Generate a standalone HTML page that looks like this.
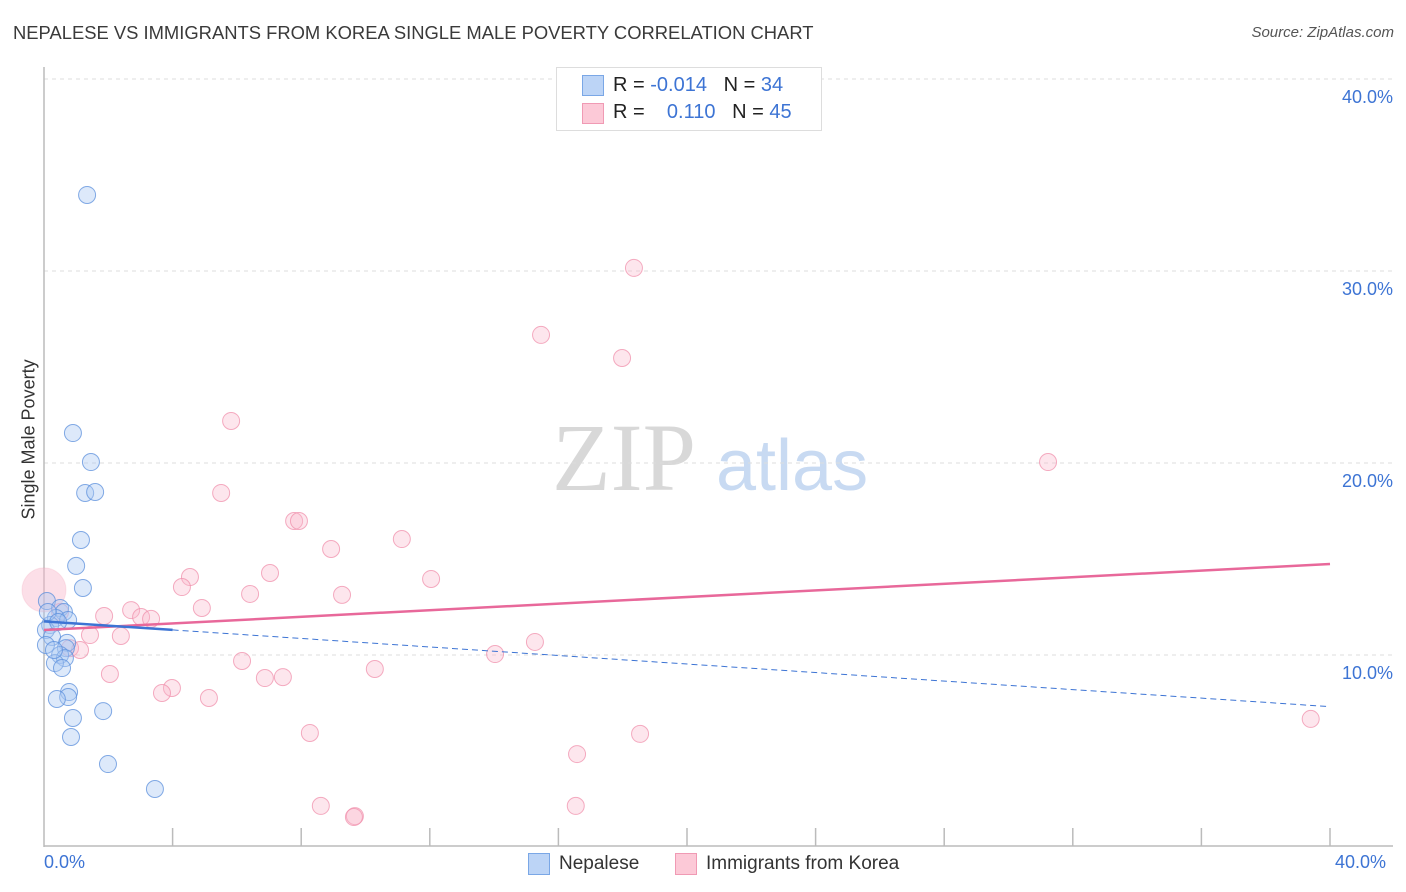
<!DOCTYPE html>
<html><head><meta charset="utf-8">
<style>
body{margin:0;background:#fff;font-family:"Liberation Sans",sans-serif;}
#wrap{position:relative;width:1406px;height:892px;overflow:hidden;}
.t{position:absolute;white-space:nowrap;}
</style></head>
<body>
<div id="wrap">
<div class="t" style="left:13px;top:22px;font-size:18.4px;color:#3a3a3a;">NEPALESE VS IMMIGRANTS FROM KOREA SINGLE MALE POVERTY CORRELATION CHART</div>
<div class="t" style="right:12px;top:24px;font-size:15px;color:#555;font-style:italic;">Source: ZipAtlas.com</div>
<svg id="svg" width="1406" height="892" style="position:absolute;left:0;top:0;"></svg>
<div class="t" style="left:556px;top:67px;width:264px;height:62px;border:1px solid #ddd;background:#fff;"></div>
<div class="t" style="left:582px;top:75px;width:20px;height:19px;background:#bcd4f6;border:1px solid #7aa7e6;"></div>
<div class="t" style="left:582px;top:103px;width:20px;height:19px;background:#fcc9d7;border:1px solid #f09ab4;"></div>
<div class="t" style="left:613px;top:74px;font-size:20px;color:#222;">R = <span style="color:#3d74d4">-0.014</span>&nbsp;&nbsp;&nbsp;N = <span style="color:#3d74d4">34</span></div>
<div class="t" style="left:613px;top:101px;font-size:20px;color:#222;">R = &nbsp;&nbsp;&nbsp;<span style="color:#3d74d4">0.110</span>&nbsp;&nbsp;&nbsp;N = <span style="color:#3d74d4">45</span></div>
<div class="t" style="left:-36px;top:444px;font-size:18px;color:#333;transform:rotate(-90deg);width:130px;text-align:center;">Single Male Poverty</div>
<div class="t" style="left:44px;top:852px;font-size:18px;color:#3d74d4;">0.0%</div>
<div class="t" style="left:1335px;top:852px;font-size:18px;color:#3d74d4;">40.0%</div>
<div class="t" style="left:528px;top:853px;width:20px;height:20px;background:#bcd4f6;border:1px solid #7aa7e6;"></div>
<div class="t" style="left:559px;top:853px;font-size:19px;color:#333;">Nepalese</div>
<div class="t" style="left:675px;top:853px;width:20px;height:20px;background:#fcc9d7;border:1px solid #f09ab4;"></div>
<div class="t" style="left:706px;top:853px;font-size:19px;color:#333;">Immigrants from Korea</div>
</div>
<script>
const yTicks=[10,20,30,40];
const yTickLabels=["10.0%","20.0%","30.0%","40.0%"];
const blueX=[1.34,0.90,1.46,1.28,1.59,1.15,1.00,1.21,0.09,0.50,0.62,0.37,0.75,0.19,0.06,0.25,0.72,0.06,0.68,0.50,0.65,0.34,0.56,0.78,0.75,0.40,1.84,0.90,0.84,1.99,3.45,0.12,0.44,0.31];
const blueY=[33.96,21.56,20.05,18.44,18.49,15.99,14.64,13.49,12.81,12.45,12.24,11.93,11.82,11.56,11.30,10.94,10.63,10.52,10.36,10.0,9.84,9.58,9.32,8.07,7.81,7.71,7.08,6.72,5.73,4.32,3.02,12.24,11.72,10.26];
const pinkX=[18.35,15.46,17.98,5.82,31.23,5.51,7.78,7.93,11.13,8.93,4.54,4.29,7.03,12.04,6.41,9.27,4.91,2.71,1.87,3.02,3.33,0.50,1.43,2.39,15.27,0.81,1.12,14.03,6.16,10.29,2.05,6.87,7.43,3.98,3.67,5.13,39.40,8.27,18.54,16.58,8.61,16.54,9.67,9.64,0.0];
const pinkY=[30.16,26.67,25.47,22.19,20.05,18.44,16.98,16.98,16.04,15.52,14.06,13.54,14.27,13.96,13.18,13.13,12.45,12.34,12.03,11.98,11.88,12.24,11.04,10.99,10.68,10.36,10.26,10.05,9.69,9.27,9.01,8.80,8.85,8.28,8.02,7.76,6.67,5.94,5.89,4.84,2.14,2.14,1.61,1.56,13.39];
const blueTrend=[11.75,-0.111];
const pinkTrend=[11.3,0.086];
const NS="http://www.w3.org/2000/svg";
const svg=document.getElementById('svg');
const X=v=>44+v/40*1286;
const Y=v=>847-v*19.2;
function mk(tag,attrs){const e=document.createElementNS(NS,tag);for(const k in attrs)e.setAttribute(k,attrs[k]);svg.appendChild(e);return e;}
let w=mk('text',{x:552,y:490,'font-size':96,'font-family':'Liberation Serif,serif',fill:'#d8d8d8'});w.textContent='ZIP';


let w2=mk('text',{x:716,y:490,'font-size':72,'font-family':'Liberation Sans,sans-serif',fill:'#c8daf2'});w2.textContent='atlas';


yTicks.forEach((t,i)=>{
 const g=mk('line',{x1:44,x2:1393,y1:Y(t),y2:Y(t),stroke:'#ddd','stroke-dasharray':'4,4'});
 
 
 const l=mk('text',{x:1393,y:Y(t)+24,'text-anchor':'end','font-size':18,fill:'#3d74d4','font-family':'Liberation Sans,sans-serif'});
 l.textContent=yTickLabels[i];
 
 
});
let ax=mk('line',{x1:44,x2:44,y1:67,y2:847,stroke:'#bbb','stroke-width':1.5});


let bx=mk('line',{x1:44,x2:1393,y1:846,y2:846,stroke:'#bbb','stroke-width':1.5});


for(let i=1;i<=10;i++){const tk=mk('line',{x1:X(i*4),x2:X(i*4),y1:828,y2:846,stroke:'#bbb','stroke-width':1.5});
 
 }
pinkX.forEach((x,i)=>{const big=i===pinkX.length-1;
 const c=mk('circle',{cx:X(x),cy:Y(pinkY[i]),r:big?22:8.5,fill:'#f8b8cb','fill-opacity':big?0.45:0.35,stroke:'#f090ac','stroke-opacity':big?0.2:0.75});
 
 });
blueX.forEach((x,i)=>{
 const c=mk('circle',{cx:X(x),cy:Y(blueY[i]),r:8.5,fill:'#a9c8f2','fill-opacity':0.4,stroke:'#5b8fdc','stroke-opacity':0.75});
 
 });
let p=mk('line',{x1:X(0),y1:Y(pinkTrend[0]),x2:X(40),y2:Y(pinkTrend[0]+pinkTrend[1]*40),stroke:'#e8689a','stroke-width':2.5});


let b1=mk('line',{x1:X(0),y1:Y(blueTrend[0]),x2:X(4),y2:Y(blueTrend[0]+blueTrend[1]*4),stroke:'#3d74d4','stroke-width':2.5});


let b2=mk('line',{x1:X(4),y1:Y(blueTrend[0]+blueTrend[1]*4),x2:X(40),y2:Y(blueTrend[0]+blueTrend[1]*40),stroke:'#3d74d4','stroke-width':1,'stroke-dasharray':'6,4'});


</script>
</body></html>
